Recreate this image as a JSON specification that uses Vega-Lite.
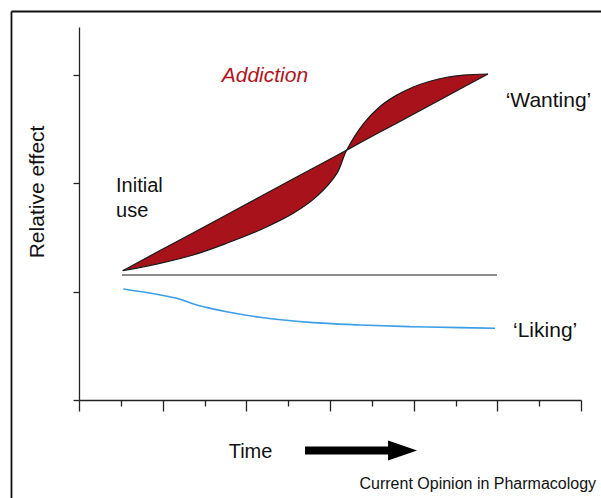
{
  "$schema": "https://vega.github.io/schema/vega-lite/v6.json",
  "width": 502,
  "height": 373,
  "autosize": {"type": "none"},
  "padding": {"left": 79, "top": 27, "right": 20, "bottom": 98},
  "background": "white",
  "config": {
    "view": {"stroke": null},
    "font": "Liberation Sans",
    "axis": {"grid": false, "labels": false, "title": null, "domainColor": "#222", "tickColor": "#222", "domainWidth": 1.3, "tickWidth": 1.3}
  },
  "datasets": {
    "wanting": [
      {"t": 1.045, "line": 1.194, "curve": 1.194},
      {"t": 1.936, "line": 1.380, "curve": 1.262},
      {"t": 2.733, "line": 1.545, "curve": 1.339},
      {"t": 3.531, "line": 1.711, "curve": 1.447},
      {"t": 4.327, "line": 1.876, "curve": 1.570},
      {"t": 5.123, "line": 2.042, "curve": 1.724},
      {"t": 5.683, "line": 2.159, "curve": 1.880},
      {"t": 6.161, "line": 2.258, "curve": 2.090},
      {"t": 6.400, "line": 2.307, "curve": 2.308},
      {"t": 6.797, "line": 2.391, "curve": 2.550},
      {"t": 7.196, "line": 2.474, "curve": 2.710},
      {"t": 7.595, "line": 2.556, "curve": 2.815},
      {"t": 7.992, "line": 2.639, "curve": 2.890},
      {"t": 8.391, "line": 2.722, "curve": 2.943},
      {"t": 8.790, "line": 2.805, "curve": 2.980},
      {"t": 9.187, "line": 2.887, "curve": 3.000},
      {"t": 9.778, "line": 3.010, "curve": 3.010}
    ],
    "liking": [
      {"t": 1.059, "v": 1.025},
      {"t": 2.336, "v": 0.939},
      {"t": 2.814, "v": 0.877},
      {"t": 3.531, "v": 0.815},
      {"t": 4.327, "v": 0.764},
      {"t": 5.522, "v": 0.717},
      {"t": 6.718, "v": 0.693},
      {"t": 7.913, "v": 0.677},
      {"t": 9.108, "v": 0.668},
      {"t": 9.945, "v": 0.662}
    ],
    "baseline": [
      {"t": 1.028, "v": 1.154},
      {"t": 9.993, "v": 1.154}
    ],
    "one": [{}]
  },
  "layer": [
    {
      "data": {"name": "wanting"},
      "mark": {"type": "area", "interpolate": "catmull-rom", "color": "#A8121B", "opacity": 1},
      "encoding": {
        "x": {"field": "t", "type": "quantitative", "scale": {"domain": [0, 12], "nice": false, "zero": false},
          "axis": {"values": [0,1,2,3,4,5,6,7,8,9,10,11,12], "tickSize": {"condition": {"test": "datum.value % 2 === 0", "value": 11}, "value": 6}}},
        "y": {"field": "line", "type": "quantitative", "scale": {"domain": [0, 3.444], "nice": false, "zero": false},
          "axis": {"values": [0,1,2,3], "tickSize": 6}},
        "y2": {"field": "curve"}
      }
    },
    {
      "data": {"name": "wanting"},
      "mark": {"type": "line", "interpolate": "catmull-rom", "color": "#1a1a1a", "strokeWidth": 1.2},
      "encoding": {
        "x": {"field": "t", "type": "quantitative"},
        "y": {"field": "curve", "type": "quantitative"}
      }
    },
    {
      "data": {"name": "wanting"},
      "mark": {"type": "line", "color": "#1a1a1a", "strokeWidth": 1.2},
      "encoding": {
        "x": {"field": "t", "type": "quantitative"},
        "y": {"field": "line", "type": "quantitative"}
      }
    },
    {
      "data": {"name": "baseline"},
      "mark": {"type": "line", "color": "#666666", "strokeWidth": 1.6},
      "encoding": {
        "x": {"field": "t", "type": "quantitative"},
        "y": {"field": "v", "type": "quantitative"}
      }
    },
    {
      "data": {"name": "liking"},
      "mark": {"type": "line", "interpolate": "catmull-rom", "color": "#3b9ee6", "strokeWidth": 1.6},
      "encoding": {
        "x": {"field": "t", "type": "quantitative"},
        "y": {"field": "v", "type": "quantitative"}
      }
    },
    {
      "data": {"name": "one"},
      "mark": {"type": "text", "text": "Addiction", "fontSize": 21, "fontStyle": "italic", "color": "#B0141C", "align": "left", "baseline": "alphabetic"},
      "encoding": {"x": {"datum": 3.411, "type": "quantitative"}, "y": {"datum": 2.934, "type": "quantitative"}}
    },
    {
      "data": {"name": "one"},
      "mark": {"type": "text", "text": "‘Wanting’", "fontSize": 21, "color": "#111", "align": "left", "baseline": "alphabetic"},
      "encoding": {"x": {"datum": 10.2, "type": "quantitative"}, "y": {"datum": 2.708, "type": "quantitative"}}
    },
    {
      "data": {"name": "one"},
      "mark": {"type": "text", "text": ["Initial", "use"], "lineHeight": 25.6, "fontSize": 20, "color": "#111", "align": "left", "baseline": "alphabetic"},
      "encoding": {"x": {"datum": 0.885, "type": "quantitative"}, "y": {"datum": 1.923, "type": "quantitative"}}
    },
    {
      "data": {"name": "one"},
      "mark": {"type": "text", "text": "‘Liking’", "fontSize": 21, "color": "#111", "align": "left", "baseline": "alphabetic"},
      "encoding": {"x": {"datum": 10.375, "type": "quantitative"}, "y": {"datum": 0.584, "type": "quantitative"}}
    },
    {
      "data": {"name": "one"},
      "mark": {"type": "text", "text": "Relative effect", "fontSize": 21, "angle": 270, "color": "#111", "align": "center", "baseline": "middle"},
      "encoding": {"x": {"datum": -0.98, "type": "quantitative"}, "y": {"datum": 1.921, "type": "quantitative"}}
    },
    {
      "data": {"name": "one"},
      "mark": {"type": "text", "text": "Time", "fontSize": 20, "color": "#111", "align": "center", "baseline": "alphabetic"},
      "encoding": {"x": {"datum": 4.1, "type": "quantitative"}, "y": {"datum": -0.538, "type": "quantitative"}}
    },
    {
      "data": {"name": "one"},
      "mark": {"type": "rule", "color": "#000", "strokeWidth": 8, "strokeCap": "butt"},
      "encoding": {"x": {"datum": 5.403, "type": "quantitative"}, "x2": {"datum": 7.5}, "y": {"datum": -0.466, "type": "quantitative"}}
    },
    {
      "data": {"name": "one"},
      "mark": {"type": "point", "shape": "M-1.45,-1L1.45,0L-1.45,1Z", "size": 400, "filled": true, "color": "#000", "opacity": 1},
      "encoding": {"x": {"datum": 7.734, "type": "quantitative"}, "y": {"datum": -0.466, "type": "quantitative"}}
    },
    {
      "data": {"name": "one"},
      "mark": {"type": "text", "text": "Current Opinion in Pharmacology", "fontSize": 16, "color": "#111", "align": "right", "baseline": "alphabetic"},
      "encoding": {"x": {"datum": 12.36, "type": "quantitative"}, "y": {"datum": -0.822, "type": "quantitative"}}
    },
    {
      "data": {"name": "one"},
      "mark": {"type": "rule", "color": "#111", "strokeWidth": 1.8},
      "encoding": {"x": {"datum": -1.614, "type": "quantitative"}, "y": {"datum": -0.91, "type": "quantitative"}, "y2": {"datum": 3.587}}
    },
    {
      "data": {"name": "one"},
      "mark": {"type": "rule", "color": "#111", "strokeWidth": 1.8},
      "encoding": {"x": {"datum": -1.614, "type": "quantitative"}, "x2": {"datum": 12.48}, "y": {"datum": 3.587, "type": "quantitative"}}
    }
  ]
}
